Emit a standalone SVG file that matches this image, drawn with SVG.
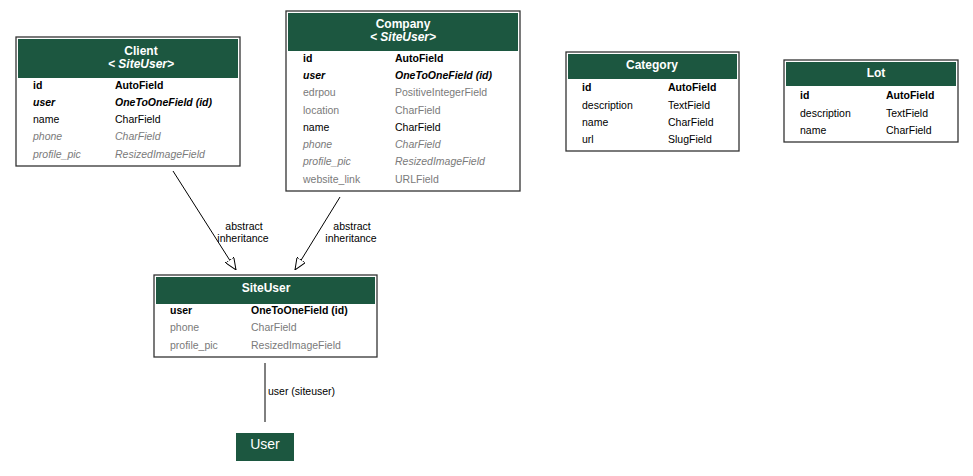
<svg xmlns="http://www.w3.org/2000/svg" width="973" height="476" viewBox="0 0 973 476">
<defs>
<style>
text{font-family:"Liberation Sans",Arial,sans-serif;font-size:10.5px;fill:#000}
.box{fill:#fff;stroke:#333;stroke-width:1.3}
.hdr{fill:#1c5740}
.t{fill:#fff;font-weight:bold;font-size:12px;text-anchor:middle}
.ti{fill:#fff;font-style:italic;font-weight:bold;font-size:12px;text-anchor:middle}
.b{font-weight:bold}
.bi{font-weight:bold;font-style:italic}
.g{fill:#7a7a7a}
.gi{fill:#7a7a7a;font-style:italic}
.e{stroke:#000;stroke-width:1;fill:none}
.lbl{text-anchor:middle;font-size:10.5px}
</style>
<marker id="tri" viewBox="0 0 12 10" refX="12" refY="5" markerWidth="12" markerHeight="10" markerUnits="userSpaceOnUse" orient="auto">
<path d="M0,0 L12,5 L0,10 Z" fill="#fff" stroke="#000" stroke-width="1"/>
</marker>
</defs>
<rect width="973" height="476" fill="#fff"/>

<g id="connectors">
<line class="e" x1="173" y1="171" x2="236" y2="270" marker-end="url(#tri)"/>
<text class="lbl" x="244" y="230">abstract</text>
<text class="lbl" x="243" y="242">inheritance</text>
<line class="e" x1="340" y1="197" x2="295" y2="270" marker-end="url(#tri)"/>
<text class="lbl" x="352" y="230">abstract</text>
<text class="lbl" x="351" y="242">inheritance</text>
<line class="e" x1="265" y1="363" x2="265" y2="422"/>
<text x="268" y="395">user (siteuser)</text>
</g>

<g id="Client">
<rect class="box" x="16" y="37" width="224" height="129"/>
<rect class="hdr" x="18" y="39" width="220" height="39"/>
<text class="t" x="141" y="55">Client</text>
<text class="ti" x="141" y="68">&lt; SiteUser&gt;</text>
<text class="b" x="33" y="89">id</text><text class="b" x="115" y="89">AutoField</text>
<text class="bi" x="33" y="106">user</text><text class="bi" x="115" y="106">OneToOneField (id)</text>
<text x="33" y="123">name</text><text x="115" y="123">CharField</text>
<text class="gi" x="33" y="140">phone</text><text class="gi" x="115" y="140">CharField</text>
<text class="gi" x="33" y="158">profile_pic</text><text class="gi" x="115" y="158">ResizedImageField</text>
</g>

<g id="Company">
<rect class="box" x="286" y="11" width="234" height="180"/>
<rect class="hdr" x="288" y="13" width="230" height="38"/>
<text class="t" x="403" y="28">Company</text>
<text class="ti" x="403" y="41">&lt; SiteUser&gt;</text>
<text class="b" x="303" y="62">id</text><text class="b" x="395" y="62">AutoField</text>
<text class="bi" x="303" y="79">user</text><text class="bi" x="395" y="79">OneToOneField (id)</text>
<text class="g" x="303" y="96">edrpou</text><text class="g" x="395" y="96">PositiveIntegerField</text>
<text class="g" x="303" y="114">location</text><text class="g" x="395" y="114">CharField</text>
<text x="303" y="131">name</text><text x="395" y="131">CharField</text>
<text class="gi" x="303" y="148">phone</text><text class="gi" x="395" y="148">CharField</text>
<text class="gi" x="303" y="165">profile_pic</text><text class="gi" x="395" y="165">ResizedImageField</text>
<text class="g" x="303" y="183">website_link</text><text class="g" x="395" y="183">URLField</text>
</g>

<g id="Category">
<rect class="box" x="566" y="52" width="173" height="99"/>
<rect class="hdr" x="568" y="54" width="169" height="25"/>
<text class="t" x="652" y="69">Category</text>
<text class="b" x="582" y="91">id</text><text class="b" x="668" y="91">AutoField</text>
<text x="582" y="109">description</text><text x="668" y="109">TextField</text>
<text x="582" y="126">name</text><text x="668" y="126">CharField</text>
<text x="582" y="143">url</text><text x="668" y="143">SlugField</text>
</g>

<g id="Lot">
<rect class="box" x="784" y="60" width="174" height="82"/>
<rect class="hdr" x="786" y="62" width="170" height="24"/>
<text class="t" x="876" y="77">Lot</text>
<text class="b" x="800" y="99">id</text><text class="b" x="886" y="99">AutoField</text>
<text x="800" y="117">description</text><text x="886" y="117">TextField</text>
<text x="800" y="134">name</text><text x="886" y="134">CharField</text>
</g>

<g id="SiteUser">
<rect class="box" x="154" y="275" width="223" height="82"/>
<rect class="hdr" x="156" y="277" width="219" height="27"/>
<text class="t" x="266" y="292">SiteUser</text>
<text class="b" x="170" y="314">user</text><text class="b" x="251" y="314">OneToOneField (id)</text>
<text class="g" x="170" y="331">phone</text><text class="g" x="251" y="331">CharField</text>
<text class="g" x="170" y="349">profile_pic</text><text class="g" x="251" y="349">ResizedImageField</text>
</g>

<g id="User">
<rect class="hdr" x="236" y="433" width="58" height="28"/>
<text x="265" y="449" style="fill:#fff;font-size:14px;text-anchor:middle">User</text>
</g>
</svg>
